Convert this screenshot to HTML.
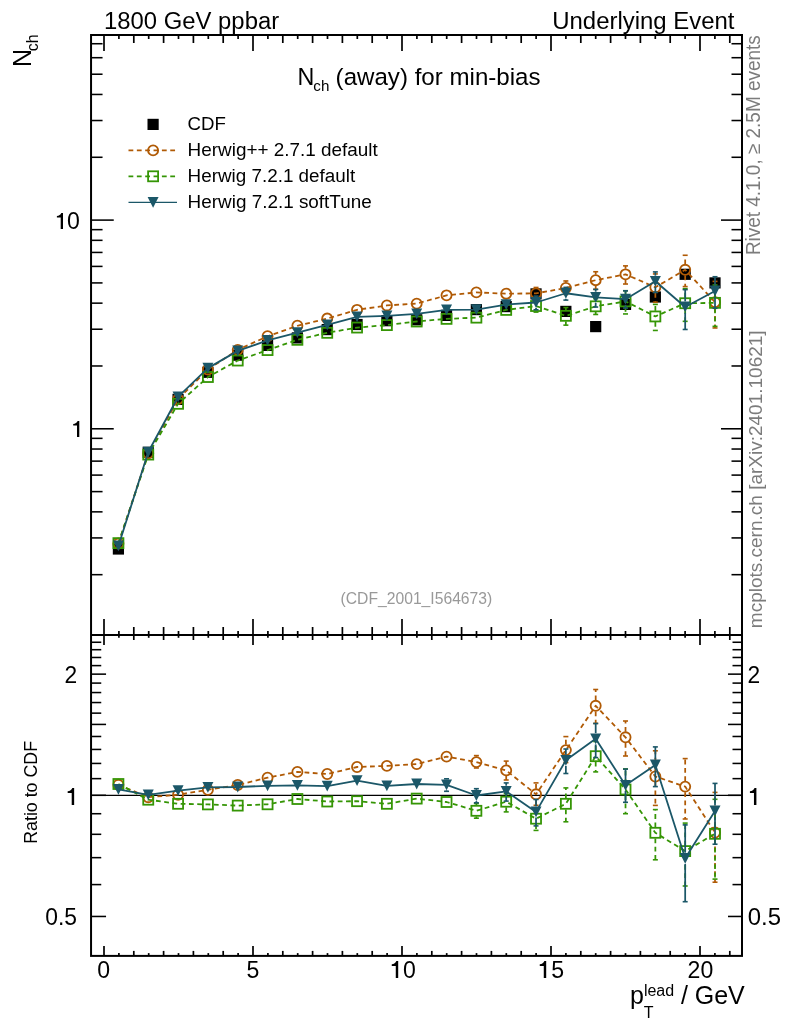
<!DOCTYPE html>
<html><head><meta charset="utf-8"><title>Nch (away) for min-bias</title>
<style>
html,body{margin:0;padding:0;background:#fff;}
body{width:786px;height:1024px;overflow:hidden;font-family:"Liberation Sans", sans-serif;}
svg{display:block;position:absolute;left:0;top:0;will-change:transform;}
svg text{font-family:"Liberation Sans", sans-serif;}
</style></head>
<body>
<svg width="786" height="1024" viewBox="0 0 786 1024">
<rect x="0" y="0" width="786" height="1024" fill="#fff"/>
<line x1="104.00" y1="35.00" x2="104.00" y2="51.00" stroke="#000" stroke-width="1.7" />
<line x1="104.00" y1="619.00" x2="104.00" y2="645.00" stroke="#000" stroke-width="1.7" />
<line x1="104.00" y1="945.90" x2="104.00" y2="955.90" stroke="#000" stroke-width="1.7" />
<line x1="118.90" y1="35.00" x2="118.90" y2="39.00" stroke="#000" stroke-width="1.7" />
<line x1="118.90" y1="631.00" x2="118.90" y2="637.80" stroke="#000" stroke-width="1.7" />
<line x1="118.90" y1="953.10" x2="118.90" y2="955.90" stroke="#000" stroke-width="1.7" />
<line x1="133.80" y1="35.00" x2="133.80" y2="43.00" stroke="#000" stroke-width="1.7" />
<line x1="133.80" y1="627.00" x2="133.80" y2="640.00" stroke="#000" stroke-width="1.7" />
<line x1="133.80" y1="950.90" x2="133.80" y2="955.90" stroke="#000" stroke-width="1.7" />
<line x1="148.70" y1="35.00" x2="148.70" y2="39.00" stroke="#000" stroke-width="1.7" />
<line x1="148.70" y1="631.00" x2="148.70" y2="637.80" stroke="#000" stroke-width="1.7" />
<line x1="148.70" y1="953.10" x2="148.70" y2="955.90" stroke="#000" stroke-width="1.7" />
<line x1="163.60" y1="35.00" x2="163.60" y2="43.00" stroke="#000" stroke-width="1.7" />
<line x1="163.60" y1="627.00" x2="163.60" y2="640.00" stroke="#000" stroke-width="1.7" />
<line x1="163.60" y1="950.90" x2="163.60" y2="955.90" stroke="#000" stroke-width="1.7" />
<line x1="178.50" y1="35.00" x2="178.50" y2="39.00" stroke="#000" stroke-width="1.7" />
<line x1="178.50" y1="631.00" x2="178.50" y2="637.80" stroke="#000" stroke-width="1.7" />
<line x1="178.50" y1="953.10" x2="178.50" y2="955.90" stroke="#000" stroke-width="1.7" />
<line x1="193.40" y1="35.00" x2="193.40" y2="43.00" stroke="#000" stroke-width="1.7" />
<line x1="193.40" y1="627.00" x2="193.40" y2="640.00" stroke="#000" stroke-width="1.7" />
<line x1="193.40" y1="950.90" x2="193.40" y2="955.90" stroke="#000" stroke-width="1.7" />
<line x1="208.30" y1="35.00" x2="208.30" y2="39.00" stroke="#000" stroke-width="1.7" />
<line x1="208.30" y1="631.00" x2="208.30" y2="637.80" stroke="#000" stroke-width="1.7" />
<line x1="208.30" y1="953.10" x2="208.30" y2="955.90" stroke="#000" stroke-width="1.7" />
<line x1="223.20" y1="35.00" x2="223.20" y2="43.00" stroke="#000" stroke-width="1.7" />
<line x1="223.20" y1="627.00" x2="223.20" y2="640.00" stroke="#000" stroke-width="1.7" />
<line x1="223.20" y1="950.90" x2="223.20" y2="955.90" stroke="#000" stroke-width="1.7" />
<line x1="238.10" y1="35.00" x2="238.10" y2="39.00" stroke="#000" stroke-width="1.7" />
<line x1="238.10" y1="631.00" x2="238.10" y2="637.80" stroke="#000" stroke-width="1.7" />
<line x1="238.10" y1="953.10" x2="238.10" y2="955.90" stroke="#000" stroke-width="1.7" />
<line x1="253.00" y1="35.00" x2="253.00" y2="51.00" stroke="#000" stroke-width="1.7" />
<line x1="253.00" y1="619.00" x2="253.00" y2="645.00" stroke="#000" stroke-width="1.7" />
<line x1="253.00" y1="945.90" x2="253.00" y2="955.90" stroke="#000" stroke-width="1.7" />
<line x1="267.90" y1="35.00" x2="267.90" y2="39.00" stroke="#000" stroke-width="1.7" />
<line x1="267.90" y1="631.00" x2="267.90" y2="637.80" stroke="#000" stroke-width="1.7" />
<line x1="267.90" y1="953.10" x2="267.90" y2="955.90" stroke="#000" stroke-width="1.7" />
<line x1="282.80" y1="35.00" x2="282.80" y2="43.00" stroke="#000" stroke-width="1.7" />
<line x1="282.80" y1="627.00" x2="282.80" y2="640.00" stroke="#000" stroke-width="1.7" />
<line x1="282.80" y1="950.90" x2="282.80" y2="955.90" stroke="#000" stroke-width="1.7" />
<line x1="297.70" y1="35.00" x2="297.70" y2="39.00" stroke="#000" stroke-width="1.7" />
<line x1="297.70" y1="631.00" x2="297.70" y2="637.80" stroke="#000" stroke-width="1.7" />
<line x1="297.70" y1="953.10" x2="297.70" y2="955.90" stroke="#000" stroke-width="1.7" />
<line x1="312.60" y1="35.00" x2="312.60" y2="43.00" stroke="#000" stroke-width="1.7" />
<line x1="312.60" y1="627.00" x2="312.60" y2="640.00" stroke="#000" stroke-width="1.7" />
<line x1="312.60" y1="950.90" x2="312.60" y2="955.90" stroke="#000" stroke-width="1.7" />
<line x1="327.50" y1="35.00" x2="327.50" y2="39.00" stroke="#000" stroke-width="1.7" />
<line x1="327.50" y1="631.00" x2="327.50" y2="637.80" stroke="#000" stroke-width="1.7" />
<line x1="327.50" y1="953.10" x2="327.50" y2="955.90" stroke="#000" stroke-width="1.7" />
<line x1="342.40" y1="35.00" x2="342.40" y2="43.00" stroke="#000" stroke-width="1.7" />
<line x1="342.40" y1="627.00" x2="342.40" y2="640.00" stroke="#000" stroke-width="1.7" />
<line x1="342.40" y1="950.90" x2="342.40" y2="955.90" stroke="#000" stroke-width="1.7" />
<line x1="357.30" y1="35.00" x2="357.30" y2="39.00" stroke="#000" stroke-width="1.7" />
<line x1="357.30" y1="631.00" x2="357.30" y2="637.80" stroke="#000" stroke-width="1.7" />
<line x1="357.30" y1="953.10" x2="357.30" y2="955.90" stroke="#000" stroke-width="1.7" />
<line x1="372.20" y1="35.00" x2="372.20" y2="43.00" stroke="#000" stroke-width="1.7" />
<line x1="372.20" y1="627.00" x2="372.20" y2="640.00" stroke="#000" stroke-width="1.7" />
<line x1="372.20" y1="950.90" x2="372.20" y2="955.90" stroke="#000" stroke-width="1.7" />
<line x1="387.10" y1="35.00" x2="387.10" y2="39.00" stroke="#000" stroke-width="1.7" />
<line x1="387.10" y1="631.00" x2="387.10" y2="637.80" stroke="#000" stroke-width="1.7" />
<line x1="387.10" y1="953.10" x2="387.10" y2="955.90" stroke="#000" stroke-width="1.7" />
<line x1="402.00" y1="35.00" x2="402.00" y2="51.00" stroke="#000" stroke-width="1.7" />
<line x1="402.00" y1="619.00" x2="402.00" y2="645.00" stroke="#000" stroke-width="1.7" />
<line x1="402.00" y1="945.90" x2="402.00" y2="955.90" stroke="#000" stroke-width="1.7" />
<line x1="416.90" y1="35.00" x2="416.90" y2="39.00" stroke="#000" stroke-width="1.7" />
<line x1="416.90" y1="631.00" x2="416.90" y2="637.80" stroke="#000" stroke-width="1.7" />
<line x1="416.90" y1="953.10" x2="416.90" y2="955.90" stroke="#000" stroke-width="1.7" />
<line x1="431.80" y1="35.00" x2="431.80" y2="43.00" stroke="#000" stroke-width="1.7" />
<line x1="431.80" y1="627.00" x2="431.80" y2="640.00" stroke="#000" stroke-width="1.7" />
<line x1="431.80" y1="950.90" x2="431.80" y2="955.90" stroke="#000" stroke-width="1.7" />
<line x1="446.70" y1="35.00" x2="446.70" y2="39.00" stroke="#000" stroke-width="1.7" />
<line x1="446.70" y1="631.00" x2="446.70" y2="637.80" stroke="#000" stroke-width="1.7" />
<line x1="446.70" y1="953.10" x2="446.70" y2="955.90" stroke="#000" stroke-width="1.7" />
<line x1="461.60" y1="35.00" x2="461.60" y2="43.00" stroke="#000" stroke-width="1.7" />
<line x1="461.60" y1="627.00" x2="461.60" y2="640.00" stroke="#000" stroke-width="1.7" />
<line x1="461.60" y1="950.90" x2="461.60" y2="955.90" stroke="#000" stroke-width="1.7" />
<line x1="476.50" y1="35.00" x2="476.50" y2="39.00" stroke="#000" stroke-width="1.7" />
<line x1="476.50" y1="631.00" x2="476.50" y2="637.80" stroke="#000" stroke-width="1.7" />
<line x1="476.50" y1="953.10" x2="476.50" y2="955.90" stroke="#000" stroke-width="1.7" />
<line x1="491.40" y1="35.00" x2="491.40" y2="43.00" stroke="#000" stroke-width="1.7" />
<line x1="491.40" y1="627.00" x2="491.40" y2="640.00" stroke="#000" stroke-width="1.7" />
<line x1="491.40" y1="950.90" x2="491.40" y2="955.90" stroke="#000" stroke-width="1.7" />
<line x1="506.30" y1="35.00" x2="506.30" y2="39.00" stroke="#000" stroke-width="1.7" />
<line x1="506.30" y1="631.00" x2="506.30" y2="637.80" stroke="#000" stroke-width="1.7" />
<line x1="506.30" y1="953.10" x2="506.30" y2="955.90" stroke="#000" stroke-width="1.7" />
<line x1="521.20" y1="35.00" x2="521.20" y2="43.00" stroke="#000" stroke-width="1.7" />
<line x1="521.20" y1="627.00" x2="521.20" y2="640.00" stroke="#000" stroke-width="1.7" />
<line x1="521.20" y1="950.90" x2="521.20" y2="955.90" stroke="#000" stroke-width="1.7" />
<line x1="536.10" y1="35.00" x2="536.10" y2="39.00" stroke="#000" stroke-width="1.7" />
<line x1="536.10" y1="631.00" x2="536.10" y2="637.80" stroke="#000" stroke-width="1.7" />
<line x1="536.10" y1="953.10" x2="536.10" y2="955.90" stroke="#000" stroke-width="1.7" />
<line x1="551.00" y1="35.00" x2="551.00" y2="51.00" stroke="#000" stroke-width="1.7" />
<line x1="551.00" y1="619.00" x2="551.00" y2="645.00" stroke="#000" stroke-width="1.7" />
<line x1="551.00" y1="945.90" x2="551.00" y2="955.90" stroke="#000" stroke-width="1.7" />
<line x1="565.90" y1="35.00" x2="565.90" y2="39.00" stroke="#000" stroke-width="1.7" />
<line x1="565.90" y1="631.00" x2="565.90" y2="637.80" stroke="#000" stroke-width="1.7" />
<line x1="565.90" y1="953.10" x2="565.90" y2="955.90" stroke="#000" stroke-width="1.7" />
<line x1="580.80" y1="35.00" x2="580.80" y2="43.00" stroke="#000" stroke-width="1.7" />
<line x1="580.80" y1="627.00" x2="580.80" y2="640.00" stroke="#000" stroke-width="1.7" />
<line x1="580.80" y1="950.90" x2="580.80" y2="955.90" stroke="#000" stroke-width="1.7" />
<line x1="595.70" y1="35.00" x2="595.70" y2="39.00" stroke="#000" stroke-width="1.7" />
<line x1="595.70" y1="631.00" x2="595.70" y2="637.80" stroke="#000" stroke-width="1.7" />
<line x1="595.70" y1="953.10" x2="595.70" y2="955.90" stroke="#000" stroke-width="1.7" />
<line x1="610.60" y1="35.00" x2="610.60" y2="43.00" stroke="#000" stroke-width="1.7" />
<line x1="610.60" y1="627.00" x2="610.60" y2="640.00" stroke="#000" stroke-width="1.7" />
<line x1="610.60" y1="950.90" x2="610.60" y2="955.90" stroke="#000" stroke-width="1.7" />
<line x1="625.50" y1="35.00" x2="625.50" y2="39.00" stroke="#000" stroke-width="1.7" />
<line x1="625.50" y1="631.00" x2="625.50" y2="637.80" stroke="#000" stroke-width="1.7" />
<line x1="625.50" y1="953.10" x2="625.50" y2="955.90" stroke="#000" stroke-width="1.7" />
<line x1="640.40" y1="35.00" x2="640.40" y2="43.00" stroke="#000" stroke-width="1.7" />
<line x1="640.40" y1="627.00" x2="640.40" y2="640.00" stroke="#000" stroke-width="1.7" />
<line x1="640.40" y1="950.90" x2="640.40" y2="955.90" stroke="#000" stroke-width="1.7" />
<line x1="655.30" y1="35.00" x2="655.30" y2="39.00" stroke="#000" stroke-width="1.7" />
<line x1="655.30" y1="631.00" x2="655.30" y2="637.80" stroke="#000" stroke-width="1.7" />
<line x1="655.30" y1="953.10" x2="655.30" y2="955.90" stroke="#000" stroke-width="1.7" />
<line x1="670.20" y1="35.00" x2="670.20" y2="43.00" stroke="#000" stroke-width="1.7" />
<line x1="670.20" y1="627.00" x2="670.20" y2="640.00" stroke="#000" stroke-width="1.7" />
<line x1="670.20" y1="950.90" x2="670.20" y2="955.90" stroke="#000" stroke-width="1.7" />
<line x1="685.10" y1="35.00" x2="685.10" y2="39.00" stroke="#000" stroke-width="1.7" />
<line x1="685.10" y1="631.00" x2="685.10" y2="637.80" stroke="#000" stroke-width="1.7" />
<line x1="685.10" y1="953.10" x2="685.10" y2="955.90" stroke="#000" stroke-width="1.7" />
<line x1="700.00" y1="35.00" x2="700.00" y2="51.00" stroke="#000" stroke-width="1.7" />
<line x1="700.00" y1="619.00" x2="700.00" y2="645.00" stroke="#000" stroke-width="1.7" />
<line x1="700.00" y1="945.90" x2="700.00" y2="955.90" stroke="#000" stroke-width="1.7" />
<line x1="714.90" y1="35.00" x2="714.90" y2="39.00" stroke="#000" stroke-width="1.7" />
<line x1="714.90" y1="631.00" x2="714.90" y2="637.80" stroke="#000" stroke-width="1.7" />
<line x1="714.90" y1="953.10" x2="714.90" y2="955.90" stroke="#000" stroke-width="1.7" />
<line x1="729.80" y1="35.00" x2="729.80" y2="43.00" stroke="#000" stroke-width="1.7" />
<line x1="729.80" y1="627.00" x2="729.80" y2="640.00" stroke="#000" stroke-width="1.7" />
<line x1="729.80" y1="950.90" x2="729.80" y2="955.90" stroke="#000" stroke-width="1.7" />
<line x1="91.05" y1="574.68" x2="102.55" y2="574.68" stroke="#000" stroke-width="1.55" />
<line x1="731.50" y1="574.68" x2="742.00" y2="574.68" stroke="#000" stroke-width="1.55" />
<line x1="91.05" y1="537.92" x2="102.55" y2="537.92" stroke="#000" stroke-width="1.55" />
<line x1="731.50" y1="537.92" x2="742.00" y2="537.92" stroke="#000" stroke-width="1.55" />
<line x1="91.05" y1="511.85" x2="102.55" y2="511.85" stroke="#000" stroke-width="1.55" />
<line x1="731.50" y1="511.85" x2="742.00" y2="511.85" stroke="#000" stroke-width="1.55" />
<line x1="91.05" y1="491.62" x2="102.55" y2="491.62" stroke="#000" stroke-width="1.55" />
<line x1="731.50" y1="491.62" x2="742.00" y2="491.62" stroke="#000" stroke-width="1.55" />
<line x1="91.05" y1="475.10" x2="102.55" y2="475.10" stroke="#000" stroke-width="1.55" />
<line x1="731.50" y1="475.10" x2="742.00" y2="475.10" stroke="#000" stroke-width="1.55" />
<line x1="91.05" y1="461.13" x2="102.55" y2="461.13" stroke="#000" stroke-width="1.55" />
<line x1="731.50" y1="461.13" x2="742.00" y2="461.13" stroke="#000" stroke-width="1.55" />
<line x1="91.05" y1="449.03" x2="102.55" y2="449.03" stroke="#000" stroke-width="1.55" />
<line x1="731.50" y1="449.03" x2="742.00" y2="449.03" stroke="#000" stroke-width="1.55" />
<line x1="91.05" y1="438.35" x2="102.55" y2="438.35" stroke="#000" stroke-width="1.55" />
<line x1="731.50" y1="438.35" x2="742.00" y2="438.35" stroke="#000" stroke-width="1.55" />
<line x1="91.05" y1="428.80" x2="113.75" y2="428.80" stroke="#000" stroke-width="1.55" />
<line x1="721.00" y1="428.80" x2="742.00" y2="428.80" stroke="#000" stroke-width="1.55" />
<line x1="91.05" y1="365.98" x2="102.55" y2="365.98" stroke="#000" stroke-width="1.55" />
<line x1="731.50" y1="365.98" x2="742.00" y2="365.98" stroke="#000" stroke-width="1.55" />
<line x1="91.05" y1="329.22" x2="102.55" y2="329.22" stroke="#000" stroke-width="1.55" />
<line x1="731.50" y1="329.22" x2="742.00" y2="329.22" stroke="#000" stroke-width="1.55" />
<line x1="91.05" y1="303.15" x2="102.55" y2="303.15" stroke="#000" stroke-width="1.55" />
<line x1="731.50" y1="303.15" x2="742.00" y2="303.15" stroke="#000" stroke-width="1.55" />
<line x1="91.05" y1="282.92" x2="102.55" y2="282.92" stroke="#000" stroke-width="1.55" />
<line x1="731.50" y1="282.92" x2="742.00" y2="282.92" stroke="#000" stroke-width="1.55" />
<line x1="91.05" y1="266.40" x2="102.55" y2="266.40" stroke="#000" stroke-width="1.55" />
<line x1="731.50" y1="266.40" x2="742.00" y2="266.40" stroke="#000" stroke-width="1.55" />
<line x1="91.05" y1="252.43" x2="102.55" y2="252.43" stroke="#000" stroke-width="1.55" />
<line x1="731.50" y1="252.43" x2="742.00" y2="252.43" stroke="#000" stroke-width="1.55" />
<line x1="91.05" y1="240.33" x2="102.55" y2="240.33" stroke="#000" stroke-width="1.55" />
<line x1="731.50" y1="240.33" x2="742.00" y2="240.33" stroke="#000" stroke-width="1.55" />
<line x1="91.05" y1="229.65" x2="102.55" y2="229.65" stroke="#000" stroke-width="1.55" />
<line x1="731.50" y1="229.65" x2="742.00" y2="229.65" stroke="#000" stroke-width="1.55" />
<line x1="91.05" y1="220.10" x2="113.75" y2="220.10" stroke="#000" stroke-width="1.55" />
<line x1="721.00" y1="220.10" x2="742.00" y2="220.10" stroke="#000" stroke-width="1.55" />
<line x1="91.05" y1="157.28" x2="102.55" y2="157.28" stroke="#000" stroke-width="1.55" />
<line x1="731.50" y1="157.28" x2="742.00" y2="157.28" stroke="#000" stroke-width="1.55" />
<line x1="91.05" y1="120.52" x2="102.55" y2="120.52" stroke="#000" stroke-width="1.55" />
<line x1="731.50" y1="120.52" x2="742.00" y2="120.52" stroke="#000" stroke-width="1.55" />
<line x1="91.05" y1="94.45" x2="102.55" y2="94.45" stroke="#000" stroke-width="1.55" />
<line x1="731.50" y1="94.45" x2="742.00" y2="94.45" stroke="#000" stroke-width="1.55" />
<line x1="91.05" y1="74.22" x2="102.55" y2="74.22" stroke="#000" stroke-width="1.55" />
<line x1="731.50" y1="74.22" x2="742.00" y2="74.22" stroke="#000" stroke-width="1.55" />
<line x1="91.05" y1="57.70" x2="102.55" y2="57.70" stroke="#000" stroke-width="1.55" />
<line x1="731.50" y1="57.70" x2="742.00" y2="57.70" stroke="#000" stroke-width="1.55" />
<line x1="91.05" y1="43.73" x2="102.55" y2="43.73" stroke="#000" stroke-width="1.55" />
<line x1="731.50" y1="43.73" x2="742.00" y2="43.73" stroke="#000" stroke-width="1.55" />
<line x1="91.05" y1="916.46" x2="106.05" y2="916.46" stroke="#000" stroke-width="1.55" />
<line x1="728.00" y1="916.46" x2="742.00" y2="916.46" stroke="#000" stroke-width="1.55" />
<line x1="91.05" y1="884.59" x2="101.25" y2="884.59" stroke="#000" stroke-width="1.55" />
<line x1="732.50" y1="884.59" x2="742.00" y2="884.59" stroke="#000" stroke-width="1.55" />
<line x1="91.05" y1="857.65" x2="101.25" y2="857.65" stroke="#000" stroke-width="1.55" />
<line x1="732.50" y1="857.65" x2="742.00" y2="857.65" stroke="#000" stroke-width="1.55" />
<line x1="91.05" y1="834.31" x2="101.25" y2="834.31" stroke="#000" stroke-width="1.55" />
<line x1="732.50" y1="834.31" x2="742.00" y2="834.31" stroke="#000" stroke-width="1.55" />
<line x1="91.05" y1="813.72" x2="101.25" y2="813.72" stroke="#000" stroke-width="1.55" />
<line x1="732.50" y1="813.72" x2="742.00" y2="813.72" stroke="#000" stroke-width="1.55" />
<line x1="91.05" y1="795.30" x2="106.05" y2="795.30" stroke="#000" stroke-width="1.55" />
<line x1="728.00" y1="795.30" x2="742.00" y2="795.30" stroke="#000" stroke-width="1.55" />
<line x1="91.05" y1="778.64" x2="101.25" y2="778.64" stroke="#000" stroke-width="1.55" />
<line x1="732.50" y1="778.64" x2="742.00" y2="778.64" stroke="#000" stroke-width="1.55" />
<line x1="91.05" y1="763.43" x2="101.25" y2="763.43" stroke="#000" stroke-width="1.55" />
<line x1="732.50" y1="763.43" x2="742.00" y2="763.43" stroke="#000" stroke-width="1.55" />
<line x1="91.05" y1="749.44" x2="101.25" y2="749.44" stroke="#000" stroke-width="1.55" />
<line x1="732.50" y1="749.44" x2="742.00" y2="749.44" stroke="#000" stroke-width="1.55" />
<line x1="91.05" y1="736.48" x2="101.25" y2="736.48" stroke="#000" stroke-width="1.55" />
<line x1="732.50" y1="736.48" x2="742.00" y2="736.48" stroke="#000" stroke-width="1.55" />
<line x1="91.05" y1="724.42" x2="106.05" y2="724.42" stroke="#000" stroke-width="1.55" />
<line x1="728.00" y1="724.42" x2="742.00" y2="724.42" stroke="#000" stroke-width="1.55" />
<line x1="91.05" y1="713.14" x2="101.25" y2="713.14" stroke="#000" stroke-width="1.55" />
<line x1="732.50" y1="713.14" x2="742.00" y2="713.14" stroke="#000" stroke-width="1.55" />
<line x1="91.05" y1="702.54" x2="101.25" y2="702.54" stroke="#000" stroke-width="1.55" />
<line x1="732.50" y1="702.54" x2="742.00" y2="702.54" stroke="#000" stroke-width="1.55" />
<line x1="91.05" y1="692.55" x2="101.25" y2="692.55" stroke="#000" stroke-width="1.55" />
<line x1="732.50" y1="692.55" x2="742.00" y2="692.55" stroke="#000" stroke-width="1.55" />
<line x1="91.05" y1="683.10" x2="101.25" y2="683.10" stroke="#000" stroke-width="1.55" />
<line x1="732.50" y1="683.10" x2="742.00" y2="683.10" stroke="#000" stroke-width="1.55" />
<line x1="91.05" y1="674.14" x2="106.05" y2="674.14" stroke="#000" stroke-width="1.55" />
<line x1="728.00" y1="674.14" x2="742.00" y2="674.14" stroke="#000" stroke-width="1.55" />
<line x1="91.05" y1="665.61" x2="101.25" y2="665.61" stroke="#000" stroke-width="1.55" />
<line x1="732.50" y1="665.61" x2="742.00" y2="665.61" stroke="#000" stroke-width="1.55" />
<line x1="91.05" y1="657.47" x2="101.25" y2="657.47" stroke="#000" stroke-width="1.55" />
<line x1="732.50" y1="657.47" x2="742.00" y2="657.47" stroke="#000" stroke-width="1.55" />
<line x1="91.05" y1="649.70" x2="101.25" y2="649.70" stroke="#000" stroke-width="1.55" />
<line x1="732.50" y1="649.70" x2="742.00" y2="649.70" stroke="#000" stroke-width="1.55" />
<line x1="91.05" y1="642.26" x2="101.25" y2="642.26" stroke="#000" stroke-width="1.55" />
<line x1="732.50" y1="642.26" x2="742.00" y2="642.26" stroke="#000" stroke-width="1.55" />
<line x1="91.05" y1="795.30" x2="742.00" y2="795.30" stroke="#000" stroke-width="1.2" />
<rect x="112.81" y="543.40" width="11.2" height="11.2" fill="#000"/>
<rect x="142.65" y="446.70" width="11.2" height="11.2" fill="#000"/>
<rect x="172.47" y="393.80" width="11.2" height="11.2" fill="#000"/>
<rect x="202.31" y="366.70" width="11.2" height="11.2" fill="#000"/>
<rect x="232.13" y="349.60" width="11.2" height="11.2" fill="#000"/>
<rect x="261.96" y="339.80" width="11.2" height="11.2" fill="#000"/>
<rect x="291.79" y="332.30" width="11.2" height="11.2" fill="#000"/>
<rect x="321.62" y="324.00" width="11.2" height="11.2" fill="#000"/>
<rect x="351.45" y="318.90" width="11.2" height="11.2" fill="#000"/>
<rect x="381.28" y="315.10" width="11.2" height="11.2" fill="#000"/>
<rect x="411.11" y="314.20" width="11.2" height="11.2" fill="#000"/>
<rect x="440.94" y="309.80" width="11.2" height="11.2" fill="#000"/>
<rect x="470.77" y="304.00" width="11.2" height="11.2" fill="#000"/>
<rect x="500.60" y="301.00" width="11.2" height="11.2" fill="#000"/>
<rect x="530.43" y="288.30" width="11.2" height="11.2" fill="#000"/>
<rect x="560.26" y="305.80" width="11.2" height="11.2" fill="#000"/>
<rect x="590.09" y="321.00" width="11.2" height="11.2" fill="#000"/>
<rect x="619.92" y="298.80" width="11.2" height="11.2" fill="#000"/>
<rect x="649.75" y="291.40" width="11.2" height="11.2" fill="#000"/>
<rect x="679.58" y="268.70" width="11.2" height="11.2" fill="#000"/>
<rect x="709.41" y="277.30" width="11.2" height="11.2" fill="#000"/>
<polyline points="118.41,543.56 148.25,453.29 178.07,399.09 207.91,369.45 237.73,349.86 267.56,336.27 297.39,325.77 327.23,318.56 357.05,309.83 386.88,305.46 416.71,303.62 446.54,295.33 476.38,292.39 506.20,293.69 536.03,293.38 565.87,287.96 595.69,280.19 625.52,274.33 655.36,287.25 685.18,269.79 715.01,302.19" fill="none" stroke="#b05a05" stroke-width="1.8" stroke-dasharray="4.8 3.5" stroke-linejoin="round"/>
<line x1="536.03" y1="287.78" x2="536.03" y2="287.47" stroke="#b05a05" stroke-width="1.75" stroke-dasharray="4.8 3.5"/>
<line x1="533.53" y1="287.47" x2="538.53" y2="287.47" stroke="#b05a05" stroke-width="1.6"/>
<line x1="536.03" y1="298.98" x2="536.03" y2="299.09" stroke="#b05a05" stroke-width="1.75" stroke-dasharray="4.8 3.5"/>
<line x1="533.53" y1="299.09" x2="538.53" y2="299.09" stroke="#b05a05" stroke-width="1.6"/>
<line x1="565.87" y1="282.36" x2="565.87" y2="280.96" stroke="#b05a05" stroke-width="1.75" stroke-dasharray="4.8 3.5"/>
<line x1="563.37" y1="280.96" x2="568.37" y2="280.96" stroke="#b05a05" stroke-width="1.6"/>
<line x1="565.87" y1="293.56" x2="565.87" y2="294.44" stroke="#b05a05" stroke-width="1.75" stroke-dasharray="4.8 3.5"/>
<line x1="563.37" y1="294.44" x2="568.37" y2="294.44" stroke="#b05a05" stroke-width="1.6"/>
<line x1="595.69" y1="274.59" x2="595.69" y2="271.74" stroke="#b05a05" stroke-width="1.75" stroke-dasharray="4.8 3.5"/>
<line x1="593.19" y1="271.74" x2="598.19" y2="271.74" stroke="#b05a05" stroke-width="1.6"/>
<line x1="595.69" y1="285.79" x2="595.69" y2="289.32" stroke="#b05a05" stroke-width="1.75" stroke-dasharray="4.8 3.5"/>
<line x1="593.19" y1="289.32" x2="598.19" y2="289.32" stroke="#b05a05" stroke-width="1.6"/>
<line x1="625.52" y1="268.73" x2="625.52" y2="265.87" stroke="#b05a05" stroke-width="1.75" stroke-dasharray="4.8 3.5"/>
<line x1="623.02" y1="265.87" x2="628.02" y2="265.87" stroke="#b05a05" stroke-width="1.6"/>
<line x1="625.52" y1="279.93" x2="625.52" y2="284.02" stroke="#b05a05" stroke-width="1.75" stroke-dasharray="4.8 3.5"/>
<line x1="623.02" y1="284.02" x2="628.02" y2="284.02" stroke="#b05a05" stroke-width="1.6"/>
<line x1="655.36" y1="281.65" x2="655.36" y2="273.93" stroke="#b05a05" stroke-width="1.75" stroke-dasharray="4.8 3.5"/>
<line x1="652.86" y1="273.93" x2="657.86" y2="273.93" stroke="#b05a05" stroke-width="1.6"/>
<line x1="655.36" y1="292.85" x2="655.36" y2="302.24" stroke="#b05a05" stroke-width="1.75" stroke-dasharray="4.8 3.5"/>
<line x1="652.86" y1="302.24" x2="657.86" y2="302.24" stroke="#b05a05" stroke-width="1.6"/>
<line x1="685.18" y1="264.19" x2="685.18" y2="255.27" stroke="#b05a05" stroke-width="1.75" stroke-dasharray="4.8 3.5"/>
<line x1="682.68" y1="255.27" x2="687.68" y2="255.27" stroke="#b05a05" stroke-width="1.6"/>
<line x1="685.18" y1="275.39" x2="685.18" y2="286.59" stroke="#b05a05" stroke-width="1.75" stroke-dasharray="4.8 3.5"/>
<line x1="682.68" y1="286.59" x2="687.68" y2="286.59" stroke="#b05a05" stroke-width="1.6"/>
<line x1="715.01" y1="296.59" x2="715.01" y2="281.40" stroke="#b05a05" stroke-width="1.75" stroke-dasharray="4.8 3.5"/>
<line x1="712.51" y1="281.40" x2="717.51" y2="281.40" stroke="#b05a05" stroke-width="1.6"/>
<line x1="715.01" y1="307.79" x2="715.01" y2="327.96" stroke="#b05a05" stroke-width="1.75" stroke-dasharray="4.8 3.5"/>
<line x1="712.51" y1="327.96" x2="717.51" y2="327.96" stroke="#b05a05" stroke-width="1.6"/>
<circle cx="118.41" cy="543.56" r="5.05" fill="none" stroke="#b05a05" stroke-width="1.8"/>
<circle cx="148.25" cy="453.29" r="5.05" fill="none" stroke="#b05a05" stroke-width="1.8"/>
<circle cx="178.07" cy="399.09" r="5.05" fill="none" stroke="#b05a05" stroke-width="1.8"/>
<circle cx="207.91" cy="369.45" r="5.05" fill="none" stroke="#b05a05" stroke-width="1.8"/>
<circle cx="237.73" cy="349.86" r="5.05" fill="none" stroke="#b05a05" stroke-width="1.8"/>
<circle cx="267.56" cy="336.27" r="5.05" fill="none" stroke="#b05a05" stroke-width="1.8"/>
<circle cx="297.39" cy="325.77" r="5.05" fill="none" stroke="#b05a05" stroke-width="1.8"/>
<circle cx="327.23" cy="318.56" r="5.05" fill="none" stroke="#b05a05" stroke-width="1.8"/>
<circle cx="357.05" cy="309.83" r="5.05" fill="none" stroke="#b05a05" stroke-width="1.8"/>
<circle cx="386.88" cy="305.46" r="5.05" fill="none" stroke="#b05a05" stroke-width="1.8"/>
<circle cx="416.71" cy="303.62" r="5.05" fill="none" stroke="#b05a05" stroke-width="1.8"/>
<circle cx="446.54" cy="295.33" r="5.05" fill="none" stroke="#b05a05" stroke-width="1.8"/>
<circle cx="476.38" cy="292.39" r="5.05" fill="none" stroke="#b05a05" stroke-width="1.8"/>
<circle cx="506.20" cy="293.69" r="5.05" fill="none" stroke="#b05a05" stroke-width="1.8"/>
<circle cx="536.03" cy="293.38" r="5.05" fill="none" stroke="#b05a05" stroke-width="1.8"/>
<circle cx="565.87" cy="287.96" r="5.05" fill="none" stroke="#b05a05" stroke-width="1.8"/>
<circle cx="595.69" cy="280.19" r="5.05" fill="none" stroke="#b05a05" stroke-width="1.8"/>
<circle cx="625.52" cy="274.33" r="5.05" fill="none" stroke="#b05a05" stroke-width="1.8"/>
<circle cx="655.36" cy="287.25" r="5.05" fill="none" stroke="#b05a05" stroke-width="1.8"/>
<circle cx="685.18" cy="269.79" r="5.05" fill="none" stroke="#b05a05" stroke-width="1.8"/>
<circle cx="715.01" cy="302.19" r="5.05" fill="none" stroke="#b05a05" stroke-width="1.8"/>
<polyline points="118.41,543.14 148.25,454.58 178.07,403.81 207.91,377.02 237.73,360.54 267.56,350.07 297.39,339.82 327.23,332.81 357.05,327.56 386.88,325.11 416.71,321.51 446.54,318.87 476.38,317.64 506.20,309.92 536.03,306.03 565.87,315.81 595.69,306.33 625.52,301.39 655.36,316.44 685.18,303.23 715.01,302.86" fill="none" stroke="#359505" stroke-width="1.8" stroke-dasharray="4.8 3.5" stroke-linejoin="round"/>
<line x1="536.03" y1="311.63" x2="536.03" y2="312.10" stroke="#359505" stroke-width="1.75" stroke-dasharray="4.8 3.5"/>
<line x1="533.53" y1="312.10" x2="538.53" y2="312.10" stroke="#359505" stroke-width="1.6"/>
<line x1="565.87" y1="310.21" x2="565.87" y2="307.56" stroke="#359505" stroke-width="1.75" stroke-dasharray="4.8 3.5"/>
<line x1="563.37" y1="307.56" x2="568.37" y2="307.56" stroke="#359505" stroke-width="1.6"/>
<line x1="565.87" y1="321.41" x2="565.87" y2="325.14" stroke="#359505" stroke-width="1.75" stroke-dasharray="4.8 3.5"/>
<line x1="563.37" y1="325.14" x2="568.37" y2="325.14" stroke="#359505" stroke-width="1.6"/>
<line x1="595.69" y1="300.73" x2="595.69" y2="298.70" stroke="#359505" stroke-width="1.75" stroke-dasharray="4.8 3.5"/>
<line x1="593.19" y1="298.70" x2="598.19" y2="298.70" stroke="#359505" stroke-width="1.6"/>
<line x1="595.69" y1="311.93" x2="595.69" y2="314.47" stroke="#359505" stroke-width="1.75" stroke-dasharray="4.8 3.5"/>
<line x1="593.19" y1="314.47" x2="598.19" y2="314.47" stroke="#359505" stroke-width="1.6"/>
<line x1="625.52" y1="295.79" x2="625.52" y2="290.71" stroke="#359505" stroke-width="1.75" stroke-dasharray="4.8 3.5"/>
<line x1="623.02" y1="290.71" x2="628.02" y2="290.71" stroke="#359505" stroke-width="1.6"/>
<line x1="625.52" y1="306.99" x2="625.52" y2="313.94" stroke="#359505" stroke-width="1.75" stroke-dasharray="4.8 3.5"/>
<line x1="623.02" y1="313.94" x2="628.02" y2="313.94" stroke="#359505" stroke-width="1.6"/>
<line x1="655.36" y1="310.84" x2="655.36" y2="304.41" stroke="#359505" stroke-width="1.75" stroke-dasharray="4.8 3.5"/>
<line x1="652.86" y1="304.41" x2="657.86" y2="304.41" stroke="#359505" stroke-width="1.6"/>
<line x1="655.36" y1="322.04" x2="655.36" y2="330.44" stroke="#359505" stroke-width="1.75" stroke-dasharray="4.8 3.5"/>
<line x1="652.86" y1="330.44" x2="657.86" y2="330.44" stroke="#359505" stroke-width="1.6"/>
<line x1="685.18" y1="297.63" x2="685.18" y2="288.71" stroke="#359505" stroke-width="1.75" stroke-dasharray="4.8 3.5"/>
<line x1="682.68" y1="288.71" x2="687.68" y2="288.71" stroke="#359505" stroke-width="1.6"/>
<line x1="685.18" y1="308.83" x2="685.18" y2="321.33" stroke="#359505" stroke-width="1.75" stroke-dasharray="4.8 3.5"/>
<line x1="682.68" y1="321.33" x2="687.68" y2="321.33" stroke="#359505" stroke-width="1.6"/>
<line x1="715.01" y1="297.26" x2="715.01" y2="284.97" stroke="#359505" stroke-width="1.75" stroke-dasharray="4.8 3.5"/>
<line x1="712.51" y1="284.97" x2="717.51" y2="284.97" stroke="#359505" stroke-width="1.6"/>
<line x1="715.01" y1="308.46" x2="715.01" y2="326.35" stroke="#359505" stroke-width="1.75" stroke-dasharray="4.8 3.5"/>
<line x1="712.51" y1="326.35" x2="717.51" y2="326.35" stroke="#359505" stroke-width="1.6"/>
<rect x="113.41" y="538.14" width="10.0" height="10.0" fill="none" stroke="#359505" stroke-width="1.8"/>
<rect x="143.25" y="449.58" width="10.0" height="10.0" fill="none" stroke="#359505" stroke-width="1.8"/>
<rect x="173.07" y="398.81" width="10.0" height="10.0" fill="none" stroke="#359505" stroke-width="1.8"/>
<rect x="202.91" y="372.02" width="10.0" height="10.0" fill="none" stroke="#359505" stroke-width="1.8"/>
<rect x="232.73" y="355.54" width="10.0" height="10.0" fill="none" stroke="#359505" stroke-width="1.8"/>
<rect x="262.56" y="345.07" width="10.0" height="10.0" fill="none" stroke="#359505" stroke-width="1.8"/>
<rect x="292.39" y="334.82" width="10.0" height="10.0" fill="none" stroke="#359505" stroke-width="1.8"/>
<rect x="322.23" y="327.81" width="10.0" height="10.0" fill="none" stroke="#359505" stroke-width="1.8"/>
<rect x="352.05" y="322.56" width="10.0" height="10.0" fill="none" stroke="#359505" stroke-width="1.8"/>
<rect x="381.88" y="320.11" width="10.0" height="10.0" fill="none" stroke="#359505" stroke-width="1.8"/>
<rect x="411.71" y="316.51" width="10.0" height="10.0" fill="none" stroke="#359505" stroke-width="1.8"/>
<rect x="441.54" y="313.87" width="10.0" height="10.0" fill="none" stroke="#359505" stroke-width="1.8"/>
<rect x="471.38" y="312.64" width="10.0" height="10.0" fill="none" stroke="#359505" stroke-width="1.8"/>
<rect x="501.20" y="304.92" width="10.0" height="10.0" fill="none" stroke="#359505" stroke-width="1.8"/>
<rect x="531.03" y="301.03" width="10.0" height="10.0" fill="none" stroke="#359505" stroke-width="1.8"/>
<rect x="560.87" y="310.81" width="10.0" height="10.0" fill="none" stroke="#359505" stroke-width="1.8"/>
<rect x="590.69" y="301.33" width="10.0" height="10.0" fill="none" stroke="#359505" stroke-width="1.8"/>
<rect x="620.52" y="296.39" width="10.0" height="10.0" fill="none" stroke="#359505" stroke-width="1.8"/>
<rect x="650.36" y="311.44" width="10.0" height="10.0" fill="none" stroke="#359505" stroke-width="1.8"/>
<rect x="680.18" y="298.23" width="10.0" height="10.0" fill="none" stroke="#359505" stroke-width="1.8"/>
<rect x="710.01" y="297.86" width="10.0" height="10.0" fill="none" stroke="#359505" stroke-width="1.8"/>
<polyline points="118.41,545.94 148.25,452.04 178.07,396.96 207.91,368.15 237.73,350.90 267.56,340.47 297.39,332.71 327.23,324.83 357.05,316.93 386.88,315.83 416.71,313.94 446.54,309.96 476.38,309.70 506.20,304.53 536.03,302.51 565.87,293.25 595.69,297.30 625.52,299.21 655.36,281.29 685.18,306.97 715.01,290.99" fill="none" stroke="#1b5768" stroke-width="1.8"  stroke-linejoin="round"/>
<line x1="536.03" y1="296.91" x2="536.03" y2="296.08" stroke="#1b5768" stroke-width="1.75" />
<line x1="533.53" y1="296.08" x2="538.53" y2="296.08" stroke="#1b5768" stroke-width="1.6"/>
<line x1="536.03" y1="308.11" x2="536.03" y2="309.77" stroke="#1b5768" stroke-width="1.75" />
<line x1="533.53" y1="309.77" x2="538.53" y2="309.77" stroke="#1b5768" stroke-width="1.6"/>
<line x1="565.87" y1="287.65" x2="565.87" y2="287.39" stroke="#1b5768" stroke-width="1.75" />
<line x1="563.37" y1="287.39" x2="568.37" y2="287.39" stroke="#1b5768" stroke-width="1.6"/>
<line x1="565.87" y1="298.85" x2="565.87" y2="300.10" stroke="#1b5768" stroke-width="1.75" />
<line x1="563.37" y1="300.10" x2="568.37" y2="300.10" stroke="#1b5768" stroke-width="1.6"/>
<line x1="595.69" y1="291.70" x2="595.69" y2="289.37" stroke="#1b5768" stroke-width="1.75" />
<line x1="593.19" y1="289.37" x2="598.19" y2="289.37" stroke="#1b5768" stroke-width="1.6"/>
<line x1="595.69" y1="302.90" x2="595.69" y2="307.05" stroke="#1b5768" stroke-width="1.75" />
<line x1="593.19" y1="307.05" x2="598.19" y2="307.05" stroke="#1b5768" stroke-width="1.6"/>
<line x1="625.52" y1="293.61" x2="625.52" y2="290.82" stroke="#1b5768" stroke-width="1.75" />
<line x1="623.02" y1="290.82" x2="628.02" y2="290.82" stroke="#1b5768" stroke-width="1.6"/>
<line x1="625.52" y1="304.81" x2="625.52" y2="308.03" stroke="#1b5768" stroke-width="1.75" />
<line x1="623.02" y1="308.03" x2="628.02" y2="308.03" stroke="#1b5768" stroke-width="1.6"/>
<line x1="655.36" y1="275.69" x2="655.36" y2="271.90" stroke="#1b5768" stroke-width="1.75" />
<line x1="652.86" y1="271.90" x2="657.86" y2="271.90" stroke="#1b5768" stroke-width="1.6"/>
<line x1="655.36" y1="286.89" x2="655.36" y2="292.49" stroke="#1b5768" stroke-width="1.75" />
<line x1="652.86" y1="292.49" x2="657.86" y2="292.49" stroke="#1b5768" stroke-width="1.6"/>
<line x1="685.18" y1="301.37" x2="685.18" y2="289.65" stroke="#1b5768" stroke-width="1.75" />
<line x1="682.68" y1="289.65" x2="687.68" y2="289.65" stroke="#1b5768" stroke-width="1.6"/>
<line x1="685.18" y1="312.57" x2="685.18" y2="329.47" stroke="#1b5768" stroke-width="1.75" />
<line x1="682.68" y1="329.47" x2="687.68" y2="329.47" stroke="#1b5768" stroke-width="1.6"/>
<line x1="715.01" y1="285.39" x2="715.01" y2="276.73" stroke="#1b5768" stroke-width="1.75" />
<line x1="712.51" y1="276.73" x2="717.51" y2="276.73" stroke="#1b5768" stroke-width="1.6"/>
<line x1="715.01" y1="296.59" x2="715.01" y2="308.26" stroke="#1b5768" stroke-width="1.75" />
<line x1="712.51" y1="308.26" x2="717.51" y2="308.26" stroke="#1b5768" stroke-width="1.6"/>
<polygon points="112.91,540.54 123.91,540.54 118.41,551.34" fill="#1b5768"/>
<polygon points="142.75,446.64 153.75,446.64 148.25,457.44" fill="#1b5768"/>
<polygon points="172.57,391.56 183.57,391.56 178.07,402.36" fill="#1b5768"/>
<polygon points="202.41,362.75 213.41,362.75 207.91,373.55" fill="#1b5768"/>
<polygon points="232.23,345.50 243.23,345.50 237.73,356.30" fill="#1b5768"/>
<polygon points="262.06,335.07 273.06,335.07 267.56,345.87" fill="#1b5768"/>
<polygon points="291.89,327.31 302.89,327.31 297.39,338.11" fill="#1b5768"/>
<polygon points="321.73,319.43 332.73,319.43 327.23,330.23" fill="#1b5768"/>
<polygon points="351.55,311.53 362.55,311.53 357.05,322.33" fill="#1b5768"/>
<polygon points="381.38,310.43 392.38,310.43 386.88,321.23" fill="#1b5768"/>
<polygon points="411.21,308.54 422.21,308.54 416.71,319.34" fill="#1b5768"/>
<polygon points="441.04,304.56 452.04,304.56 446.54,315.36" fill="#1b5768"/>
<polygon points="470.88,304.30 481.88,304.30 476.38,315.10" fill="#1b5768"/>
<polygon points="500.70,299.13 511.70,299.13 506.20,309.93" fill="#1b5768"/>
<polygon points="530.53,297.11 541.53,297.11 536.03,307.91" fill="#1b5768"/>
<polygon points="560.37,287.85 571.37,287.85 565.87,298.65" fill="#1b5768"/>
<polygon points="590.19,291.90 601.19,291.90 595.69,302.70" fill="#1b5768"/>
<polygon points="620.02,293.81 631.02,293.81 625.52,304.61" fill="#1b5768"/>
<polygon points="649.86,275.89 660.86,275.89 655.36,286.69" fill="#1b5768"/>
<polygon points="679.68,301.57 690.68,301.57 685.18,312.37" fill="#1b5768"/>
<polygon points="709.51,285.59 720.51,285.59 715.01,296.39" fill="#1b5768"/>
<polyline points="118.41,784.80 148.25,797.20 178.07,794.70 207.91,789.80 237.73,785.00 267.56,777.70 297.39,771.90 327.23,774.00 357.05,767.00 386.88,765.90 416.71,764.10 446.54,756.60 476.38,762.10 506.20,770.40 536.03,794.30 565.87,750.10 595.69,705.80 625.52,737.30 655.36,776.50 685.18,786.60 715.01,832.50" fill="none" stroke="#b05a05" stroke-width="1.8" stroke-dasharray="4.8 3.5" stroke-linejoin="round"/>
<line x1="476.38" y1="756.50" x2="476.38" y2="755.60" stroke="#b05a05" stroke-width="1.75" stroke-dasharray="4.8 3.5"/>
<line x1="473.88" y1="755.60" x2="478.88" y2="755.60" stroke="#b05a05" stroke-width="1.6"/>
<line x1="476.38" y1="767.70" x2="476.38" y2="768.00" stroke="#b05a05" stroke-width="1.75" stroke-dasharray="4.8 3.5"/>
<line x1="473.88" y1="768.00" x2="478.88" y2="768.00" stroke="#b05a05" stroke-width="1.6"/>
<line x1="506.20" y1="764.80" x2="506.20" y2="761.10" stroke="#b05a05" stroke-width="1.75" stroke-dasharray="4.8 3.5"/>
<line x1="503.70" y1="761.10" x2="508.70" y2="761.10" stroke="#b05a05" stroke-width="1.6"/>
<line x1="506.20" y1="776.00" x2="506.20" y2="780.00" stroke="#b05a05" stroke-width="1.75" stroke-dasharray="4.8 3.5"/>
<line x1="503.70" y1="780.00" x2="508.70" y2="780.00" stroke="#b05a05" stroke-width="1.6"/>
<line x1="536.03" y1="788.70" x2="536.03" y2="782.90" stroke="#b05a05" stroke-width="1.75" stroke-dasharray="4.8 3.5"/>
<line x1="533.53" y1="782.90" x2="538.53" y2="782.90" stroke="#b05a05" stroke-width="1.6"/>
<line x1="536.03" y1="799.90" x2="536.03" y2="805.30" stroke="#b05a05" stroke-width="1.75" stroke-dasharray="4.8 3.5"/>
<line x1="533.53" y1="805.30" x2="538.53" y2="805.30" stroke="#b05a05" stroke-width="1.6"/>
<line x1="565.87" y1="744.50" x2="565.87" y2="736.60" stroke="#b05a05" stroke-width="1.75" stroke-dasharray="4.8 3.5"/>
<line x1="563.37" y1="736.60" x2="568.37" y2="736.60" stroke="#b05a05" stroke-width="1.6"/>
<line x1="565.87" y1="755.70" x2="565.87" y2="762.60" stroke="#b05a05" stroke-width="1.75" stroke-dasharray="4.8 3.5"/>
<line x1="563.37" y1="762.60" x2="568.37" y2="762.60" stroke="#b05a05" stroke-width="1.6"/>
<line x1="595.69" y1="700.20" x2="595.69" y2="689.50" stroke="#b05a05" stroke-width="1.75" stroke-dasharray="4.8 3.5"/>
<line x1="593.19" y1="689.50" x2="598.19" y2="689.50" stroke="#b05a05" stroke-width="1.6"/>
<line x1="595.69" y1="711.40" x2="595.69" y2="723.40" stroke="#b05a05" stroke-width="1.75" stroke-dasharray="4.8 3.5"/>
<line x1="593.19" y1="723.40" x2="598.19" y2="723.40" stroke="#b05a05" stroke-width="1.6"/>
<line x1="625.52" y1="731.70" x2="625.52" y2="721.00" stroke="#b05a05" stroke-width="1.75" stroke-dasharray="4.8 3.5"/>
<line x1="623.02" y1="721.00" x2="628.02" y2="721.00" stroke="#b05a05" stroke-width="1.6"/>
<line x1="625.52" y1="742.90" x2="625.52" y2="756.00" stroke="#b05a05" stroke-width="1.75" stroke-dasharray="4.8 3.5"/>
<line x1="623.02" y1="756.00" x2="628.02" y2="756.00" stroke="#b05a05" stroke-width="1.6"/>
<line x1="655.36" y1="770.90" x2="655.36" y2="750.80" stroke="#b05a05" stroke-width="1.75" stroke-dasharray="4.8 3.5"/>
<line x1="652.86" y1="750.80" x2="657.86" y2="750.80" stroke="#b05a05" stroke-width="1.6"/>
<line x1="655.36" y1="782.10" x2="655.36" y2="805.40" stroke="#b05a05" stroke-width="1.75" stroke-dasharray="4.8 3.5"/>
<line x1="652.86" y1="805.40" x2="657.86" y2="805.40" stroke="#b05a05" stroke-width="1.6"/>
<line x1="685.18" y1="781.00" x2="685.18" y2="758.60" stroke="#b05a05" stroke-width="1.75" stroke-dasharray="4.8 3.5"/>
<line x1="682.68" y1="758.60" x2="687.68" y2="758.60" stroke="#b05a05" stroke-width="1.6"/>
<line x1="685.18" y1="792.20" x2="685.18" y2="819.00" stroke="#b05a05" stroke-width="1.75" stroke-dasharray="4.8 3.5"/>
<line x1="682.68" y1="819.00" x2="687.68" y2="819.00" stroke="#b05a05" stroke-width="1.6"/>
<line x1="715.01" y1="826.90" x2="715.01" y2="792.40" stroke="#b05a05" stroke-width="1.75" stroke-dasharray="4.8 3.5"/>
<line x1="712.51" y1="792.40" x2="717.51" y2="792.40" stroke="#b05a05" stroke-width="1.6"/>
<line x1="715.01" y1="838.10" x2="715.01" y2="882.20" stroke="#b05a05" stroke-width="1.75" stroke-dasharray="4.8 3.5"/>
<line x1="712.51" y1="882.20" x2="717.51" y2="882.20" stroke="#b05a05" stroke-width="1.6"/>
<circle cx="118.41" cy="784.80" r="5.05" fill="none" stroke="#b05a05" stroke-width="1.8"/>
<circle cx="148.25" cy="797.20" r="5.05" fill="none" stroke="#b05a05" stroke-width="1.8"/>
<circle cx="178.07" cy="794.70" r="5.05" fill="none" stroke="#b05a05" stroke-width="1.8"/>
<circle cx="207.91" cy="789.80" r="5.05" fill="none" stroke="#b05a05" stroke-width="1.8"/>
<circle cx="237.73" cy="785.00" r="5.05" fill="none" stroke="#b05a05" stroke-width="1.8"/>
<circle cx="267.56" cy="777.70" r="5.05" fill="none" stroke="#b05a05" stroke-width="1.8"/>
<circle cx="297.39" cy="771.90" r="5.05" fill="none" stroke="#b05a05" stroke-width="1.8"/>
<circle cx="327.23" cy="774.00" r="5.05" fill="none" stroke="#b05a05" stroke-width="1.8"/>
<circle cx="357.05" cy="767.00" r="5.05" fill="none" stroke="#b05a05" stroke-width="1.8"/>
<circle cx="386.88" cy="765.90" r="5.05" fill="none" stroke="#b05a05" stroke-width="1.8"/>
<circle cx="416.71" cy="764.10" r="5.05" fill="none" stroke="#b05a05" stroke-width="1.8"/>
<circle cx="446.54" cy="756.60" r="5.05" fill="none" stroke="#b05a05" stroke-width="1.8"/>
<circle cx="476.38" cy="762.10" r="5.05" fill="none" stroke="#b05a05" stroke-width="1.8"/>
<circle cx="506.20" cy="770.40" r="5.05" fill="none" stroke="#b05a05" stroke-width="1.8"/>
<circle cx="536.03" cy="794.30" r="5.05" fill="none" stroke="#b05a05" stroke-width="1.8"/>
<circle cx="565.87" cy="750.10" r="5.05" fill="none" stroke="#b05a05" stroke-width="1.8"/>
<circle cx="595.69" cy="705.80" r="5.05" fill="none" stroke="#b05a05" stroke-width="1.8"/>
<circle cx="625.52" cy="737.30" r="5.05" fill="none" stroke="#b05a05" stroke-width="1.8"/>
<circle cx="655.36" cy="776.50" r="5.05" fill="none" stroke="#b05a05" stroke-width="1.8"/>
<circle cx="685.18" cy="786.60" r="5.05" fill="none" stroke="#b05a05" stroke-width="1.8"/>
<circle cx="715.01" cy="832.50" r="5.05" fill="none" stroke="#b05a05" stroke-width="1.8"/>
<polyline points="118.41,784.00 148.25,799.70 178.07,803.80 207.91,804.40 237.73,805.60 267.56,804.30 297.39,799.00 327.23,801.50 357.05,801.20 386.88,803.80 416.71,798.60 446.54,802.00 476.38,810.80 506.20,801.70 536.03,818.70 565.87,803.80 595.69,756.20 625.52,789.50 655.36,832.80 685.18,851.10 715.01,833.80" fill="none" stroke="#359505" stroke-width="1.8" stroke-dasharray="4.8 3.5" stroke-linejoin="round"/>
<line x1="476.38" y1="805.20" x2="476.38" y2="803.50" stroke="#359505" stroke-width="1.75" stroke-dasharray="4.8 3.5"/>
<line x1="473.88" y1="803.50" x2="478.88" y2="803.50" stroke="#359505" stroke-width="1.6"/>
<line x1="476.38" y1="816.40" x2="476.38" y2="818.20" stroke="#359505" stroke-width="1.75" stroke-dasharray="4.8 3.5"/>
<line x1="473.88" y1="818.20" x2="478.88" y2="818.20" stroke="#359505" stroke-width="1.6"/>
<line x1="506.20" y1="796.10" x2="506.20" y2="793.70" stroke="#359505" stroke-width="1.75" stroke-dasharray="4.8 3.5"/>
<line x1="503.70" y1="793.70" x2="508.70" y2="793.70" stroke="#359505" stroke-width="1.6"/>
<line x1="506.20" y1="807.30" x2="506.20" y2="811.90" stroke="#359505" stroke-width="1.75" stroke-dasharray="4.8 3.5"/>
<line x1="503.70" y1="811.90" x2="508.70" y2="811.90" stroke="#359505" stroke-width="1.6"/>
<line x1="536.03" y1="813.10" x2="536.03" y2="808.40" stroke="#359505" stroke-width="1.75" stroke-dasharray="4.8 3.5"/>
<line x1="533.53" y1="808.40" x2="538.53" y2="808.40" stroke="#359505" stroke-width="1.6"/>
<line x1="536.03" y1="824.30" x2="536.03" y2="830.40" stroke="#359505" stroke-width="1.75" stroke-dasharray="4.8 3.5"/>
<line x1="533.53" y1="830.40" x2="538.53" y2="830.40" stroke="#359505" stroke-width="1.6"/>
<line x1="565.87" y1="798.20" x2="565.87" y2="787.90" stroke="#359505" stroke-width="1.75" stroke-dasharray="4.8 3.5"/>
<line x1="563.37" y1="787.90" x2="568.37" y2="787.90" stroke="#359505" stroke-width="1.6"/>
<line x1="565.87" y1="809.40" x2="565.87" y2="821.80" stroke="#359505" stroke-width="1.75" stroke-dasharray="4.8 3.5"/>
<line x1="563.37" y1="821.80" x2="568.37" y2="821.80" stroke="#359505" stroke-width="1.6"/>
<line x1="595.69" y1="750.60" x2="595.69" y2="741.50" stroke="#359505" stroke-width="1.75" stroke-dasharray="4.8 3.5"/>
<line x1="593.19" y1="741.50" x2="598.19" y2="741.50" stroke="#359505" stroke-width="1.6"/>
<line x1="595.69" y1="761.80" x2="595.69" y2="771.90" stroke="#359505" stroke-width="1.75" stroke-dasharray="4.8 3.5"/>
<line x1="593.19" y1="771.90" x2="598.19" y2="771.90" stroke="#359505" stroke-width="1.6"/>
<line x1="625.52" y1="783.90" x2="625.52" y2="768.90" stroke="#359505" stroke-width="1.75" stroke-dasharray="4.8 3.5"/>
<line x1="623.02" y1="768.90" x2="628.02" y2="768.90" stroke="#359505" stroke-width="1.6"/>
<line x1="625.52" y1="795.10" x2="625.52" y2="813.70" stroke="#359505" stroke-width="1.75" stroke-dasharray="4.8 3.5"/>
<line x1="623.02" y1="813.70" x2="628.02" y2="813.70" stroke="#359505" stroke-width="1.6"/>
<line x1="655.36" y1="827.20" x2="655.36" y2="809.60" stroke="#359505" stroke-width="1.75" stroke-dasharray="4.8 3.5"/>
<line x1="652.86" y1="809.60" x2="657.86" y2="809.60" stroke="#359505" stroke-width="1.6"/>
<line x1="655.36" y1="838.40" x2="655.36" y2="859.80" stroke="#359505" stroke-width="1.75" stroke-dasharray="4.8 3.5"/>
<line x1="652.86" y1="859.80" x2="657.86" y2="859.80" stroke="#359505" stroke-width="1.6"/>
<line x1="685.18" y1="845.50" x2="685.18" y2="823.10" stroke="#359505" stroke-width="1.75" stroke-dasharray="4.8 3.5"/>
<line x1="682.68" y1="823.10" x2="687.68" y2="823.10" stroke="#359505" stroke-width="1.6"/>
<line x1="685.18" y1="856.70" x2="685.18" y2="886.00" stroke="#359505" stroke-width="1.75" stroke-dasharray="4.8 3.5"/>
<line x1="682.68" y1="886.00" x2="687.68" y2="886.00" stroke="#359505" stroke-width="1.6"/>
<line x1="715.01" y1="828.20" x2="715.01" y2="799.30" stroke="#359505" stroke-width="1.75" stroke-dasharray="4.8 3.5"/>
<line x1="712.51" y1="799.30" x2="717.51" y2="799.30" stroke="#359505" stroke-width="1.6"/>
<line x1="715.01" y1="839.40" x2="715.01" y2="879.10" stroke="#359505" stroke-width="1.75" stroke-dasharray="4.8 3.5"/>
<line x1="712.51" y1="879.10" x2="717.51" y2="879.10" stroke="#359505" stroke-width="1.6"/>
<rect x="113.41" y="779.00" width="10.0" height="10.0" fill="none" stroke="#359505" stroke-width="1.8"/>
<rect x="143.25" y="794.70" width="10.0" height="10.0" fill="none" stroke="#359505" stroke-width="1.8"/>
<rect x="173.07" y="798.80" width="10.0" height="10.0" fill="none" stroke="#359505" stroke-width="1.8"/>
<rect x="202.91" y="799.40" width="10.0" height="10.0" fill="none" stroke="#359505" stroke-width="1.8"/>
<rect x="232.73" y="800.60" width="10.0" height="10.0" fill="none" stroke="#359505" stroke-width="1.8"/>
<rect x="262.56" y="799.30" width="10.0" height="10.0" fill="none" stroke="#359505" stroke-width="1.8"/>
<rect x="292.39" y="794.00" width="10.0" height="10.0" fill="none" stroke="#359505" stroke-width="1.8"/>
<rect x="322.23" y="796.50" width="10.0" height="10.0" fill="none" stroke="#359505" stroke-width="1.8"/>
<rect x="352.05" y="796.20" width="10.0" height="10.0" fill="none" stroke="#359505" stroke-width="1.8"/>
<rect x="381.88" y="798.80" width="10.0" height="10.0" fill="none" stroke="#359505" stroke-width="1.8"/>
<rect x="411.71" y="793.60" width="10.0" height="10.0" fill="none" stroke="#359505" stroke-width="1.8"/>
<rect x="441.54" y="797.00" width="10.0" height="10.0" fill="none" stroke="#359505" stroke-width="1.8"/>
<rect x="471.38" y="805.80" width="10.0" height="10.0" fill="none" stroke="#359505" stroke-width="1.8"/>
<rect x="501.20" y="796.70" width="10.0" height="10.0" fill="none" stroke="#359505" stroke-width="1.8"/>
<rect x="531.03" y="813.70" width="10.0" height="10.0" fill="none" stroke="#359505" stroke-width="1.8"/>
<rect x="560.87" y="798.80" width="10.0" height="10.0" fill="none" stroke="#359505" stroke-width="1.8"/>
<rect x="590.69" y="751.20" width="10.0" height="10.0" fill="none" stroke="#359505" stroke-width="1.8"/>
<rect x="620.52" y="784.50" width="10.0" height="10.0" fill="none" stroke="#359505" stroke-width="1.8"/>
<rect x="650.36" y="827.80" width="10.0" height="10.0" fill="none" stroke="#359505" stroke-width="1.8"/>
<rect x="680.18" y="846.10" width="10.0" height="10.0" fill="none" stroke="#359505" stroke-width="1.8"/>
<rect x="710.01" y="828.80" width="10.0" height="10.0" fill="none" stroke="#359505" stroke-width="1.8"/>
<polyline points="118.41,789.40 148.25,794.80 178.07,790.60 207.91,787.30 237.73,787.00 267.56,785.80 297.39,785.30 327.23,786.10 357.05,780.70 386.88,785.90 416.71,784.00 446.54,784.80 476.38,795.50 506.20,791.30 536.03,811.90 565.87,760.30 595.69,738.80 625.52,785.30 655.36,765.00 685.18,858.30 715.01,810.90" fill="none" stroke="#1b5768" stroke-width="1.8"  stroke-linejoin="round"/>
<line x1="446.54" y1="779.20" x2="446.54" y2="778.80" stroke="#1b5768" stroke-width="1.75" />
<line x1="444.04" y1="778.80" x2="449.04" y2="778.80" stroke="#1b5768" stroke-width="1.6"/>
<line x1="446.54" y1="790.40" x2="446.54" y2="791.30" stroke="#1b5768" stroke-width="1.75" />
<line x1="444.04" y1="791.30" x2="449.04" y2="791.30" stroke="#1b5768" stroke-width="1.6"/>
<line x1="476.38" y1="789.90" x2="476.38" y2="788.70" stroke="#1b5768" stroke-width="1.75" />
<line x1="473.88" y1="788.70" x2="478.88" y2="788.70" stroke="#1b5768" stroke-width="1.6"/>
<line x1="476.38" y1="801.10" x2="476.38" y2="802.80" stroke="#1b5768" stroke-width="1.75" />
<line x1="473.88" y1="802.80" x2="478.88" y2="802.80" stroke="#1b5768" stroke-width="1.6"/>
<line x1="506.20" y1="785.70" x2="506.20" y2="782.90" stroke="#1b5768" stroke-width="1.75" />
<line x1="503.70" y1="782.90" x2="508.70" y2="782.90" stroke="#1b5768" stroke-width="1.6"/>
<line x1="506.20" y1="796.90" x2="506.20" y2="801.10" stroke="#1b5768" stroke-width="1.75" />
<line x1="503.70" y1="801.10" x2="508.70" y2="801.10" stroke="#1b5768" stroke-width="1.6"/>
<line x1="536.03" y1="806.30" x2="536.03" y2="799.50" stroke="#1b5768" stroke-width="1.75" />
<line x1="533.53" y1="799.50" x2="538.53" y2="799.50" stroke="#1b5768" stroke-width="1.6"/>
<line x1="536.03" y1="817.50" x2="536.03" y2="825.90" stroke="#1b5768" stroke-width="1.75" />
<line x1="533.53" y1="825.90" x2="538.53" y2="825.90" stroke="#1b5768" stroke-width="1.6"/>
<line x1="565.87" y1="754.70" x2="565.87" y2="749.00" stroke="#1b5768" stroke-width="1.75" />
<line x1="563.37" y1="749.00" x2="568.37" y2="749.00" stroke="#1b5768" stroke-width="1.6"/>
<line x1="565.87" y1="765.90" x2="565.87" y2="773.50" stroke="#1b5768" stroke-width="1.75" />
<line x1="563.37" y1="773.50" x2="568.37" y2="773.50" stroke="#1b5768" stroke-width="1.6"/>
<line x1="595.69" y1="733.20" x2="595.69" y2="723.50" stroke="#1b5768" stroke-width="1.75" />
<line x1="593.19" y1="723.50" x2="598.19" y2="723.50" stroke="#1b5768" stroke-width="1.6"/>
<line x1="595.69" y1="744.40" x2="595.69" y2="757.60" stroke="#1b5768" stroke-width="1.75" />
<line x1="593.19" y1="757.60" x2="598.19" y2="757.60" stroke="#1b5768" stroke-width="1.6"/>
<line x1="625.52" y1="779.70" x2="625.52" y2="769.10" stroke="#1b5768" stroke-width="1.75" />
<line x1="623.02" y1="769.10" x2="628.02" y2="769.10" stroke="#1b5768" stroke-width="1.6"/>
<line x1="625.52" y1="790.90" x2="625.52" y2="802.30" stroke="#1b5768" stroke-width="1.75" />
<line x1="623.02" y1="802.30" x2="628.02" y2="802.30" stroke="#1b5768" stroke-width="1.6"/>
<line x1="655.36" y1="759.40" x2="655.36" y2="746.90" stroke="#1b5768" stroke-width="1.75" />
<line x1="652.86" y1="746.90" x2="657.86" y2="746.90" stroke="#1b5768" stroke-width="1.6"/>
<line x1="655.36" y1="770.60" x2="655.36" y2="786.60" stroke="#1b5768" stroke-width="1.75" />
<line x1="652.86" y1="786.60" x2="657.86" y2="786.60" stroke="#1b5768" stroke-width="1.6"/>
<line x1="685.18" y1="852.70" x2="685.18" y2="824.90" stroke="#1b5768" stroke-width="1.75" />
<line x1="682.68" y1="824.90" x2="687.68" y2="824.90" stroke="#1b5768" stroke-width="1.6"/>
<line x1="685.18" y1="863.90" x2="685.18" y2="901.70" stroke="#1b5768" stroke-width="1.75" />
<line x1="682.68" y1="901.70" x2="687.68" y2="901.70" stroke="#1b5768" stroke-width="1.6"/>
<line x1="715.01" y1="805.30" x2="715.01" y2="783.40" stroke="#1b5768" stroke-width="1.75" />
<line x1="712.51" y1="783.40" x2="717.51" y2="783.40" stroke="#1b5768" stroke-width="1.6"/>
<line x1="715.01" y1="816.50" x2="715.01" y2="844.20" stroke="#1b5768" stroke-width="1.75" />
<line x1="712.51" y1="844.20" x2="717.51" y2="844.20" stroke="#1b5768" stroke-width="1.6"/>
<polygon points="112.91,784.00 123.91,784.00 118.41,794.80" fill="#1b5768"/>
<polygon points="142.75,789.40 153.75,789.40 148.25,800.20" fill="#1b5768"/>
<polygon points="172.57,785.20 183.57,785.20 178.07,796.00" fill="#1b5768"/>
<polygon points="202.41,781.90 213.41,781.90 207.91,792.70" fill="#1b5768"/>
<polygon points="232.23,781.60 243.23,781.60 237.73,792.40" fill="#1b5768"/>
<polygon points="262.06,780.40 273.06,780.40 267.56,791.20" fill="#1b5768"/>
<polygon points="291.89,779.90 302.89,779.90 297.39,790.70" fill="#1b5768"/>
<polygon points="321.73,780.70 332.73,780.70 327.23,791.50" fill="#1b5768"/>
<polygon points="351.55,775.30 362.55,775.30 357.05,786.10" fill="#1b5768"/>
<polygon points="381.38,780.50 392.38,780.50 386.88,791.30" fill="#1b5768"/>
<polygon points="411.21,778.60 422.21,778.60 416.71,789.40" fill="#1b5768"/>
<polygon points="441.04,779.40 452.04,779.40 446.54,790.20" fill="#1b5768"/>
<polygon points="470.88,790.10 481.88,790.10 476.38,800.90" fill="#1b5768"/>
<polygon points="500.70,785.90 511.70,785.90 506.20,796.70" fill="#1b5768"/>
<polygon points="530.53,806.50 541.53,806.50 536.03,817.30" fill="#1b5768"/>
<polygon points="560.37,754.90 571.37,754.90 565.87,765.70" fill="#1b5768"/>
<polygon points="590.19,733.40 601.19,733.40 595.69,744.20" fill="#1b5768"/>
<polygon points="620.02,779.90 631.02,779.90 625.52,790.70" fill="#1b5768"/>
<polygon points="649.86,759.60 660.86,759.60 655.36,770.40" fill="#1b5768"/>
<polygon points="679.68,852.90 690.68,852.90 685.18,863.70" fill="#1b5768"/>
<polygon points="709.51,805.50 720.51,805.50 715.01,816.30" fill="#1b5768"/>
<rect x="91.05" y="35.0" width="650.95" height="920.9" fill="none" stroke="#000" stroke-width="2"/>
<line x1="91.05" y1="635.00" x2="742.00" y2="635.00" stroke="#000" stroke-width="2" />
<rect x="147.50" y="118.80" width="11.2" height="11.2" fill="#000"/>
<line x1="128.50" y1="150.40" x2="177.00" y2="150.40" stroke="#b05a05" stroke-width="1.7" stroke-dasharray="4.8 3.55"/>
<circle cx="153.10" cy="150.40" r="5.05" fill="none" stroke="#b05a05" stroke-width="1.8"/>
<line x1="128.50" y1="176.30" x2="177.00" y2="176.30" stroke="#359505" stroke-width="1.7" stroke-dasharray="4.8 3.55"/>
<rect x="148.10" y="171.30" width="10.0" height="10.0" fill="none" stroke="#359505" stroke-width="1.8"/>
<line x1="128.50" y1="202.40" x2="177.00" y2="202.40" stroke="#1b5768" stroke-width="1.3" />
<polygon points="147.60,196.90 158.60,196.90 153.10,207.70" fill="#1b5768"/>
<text transform="translate(187.6,129.6) scale(1.026,1)" font-size="18.2" text-anchor="start" fill="#000">CDF</text>
<text transform="translate(187.6,155.6) scale(1.039,1)" font-size="18.2" text-anchor="start" fill="#000">Herwig++ 2.7.1 default</text>
<text transform="translate(187.6,181.6) scale(1.036,1)" font-size="18.2" text-anchor="start" fill="#000">Herwig 7.2.1 default</text>
<text transform="translate(187.6,207.6) scale(1.038,1)" font-size="18.2" text-anchor="start" fill="#000">Herwig 7.2.1 softTune</text>
<text transform="translate(104.0,28.8) scale(1.0245,1)" font-size="23.3" text-anchor="start" fill="#000">1800 GeV ppbar</text>
<text transform="translate(734.5,28.8) scale(1.028,1)" font-size="23.3" text-anchor="end" fill="#000">Underlying Event</text>
<text transform="translate(297.6,85.3)" font-size="23.3" text-anchor="start" fill="#000">N</text>
<text transform="translate(313.3,90.6) scale(0.98,1)" font-size="15.5" text-anchor="start" fill="#000">ch</text>
<text transform="translate(335.6,85.3) scale(1.035,1)" font-size="23.3" text-anchor="start" fill="#000">(away) for min-bias</text>
<text transform="translate(416.4,604.2)" font-size="15.7" text-anchor="middle" fill="#999999">(CDF_2001_I564673)</text>
<path d="M63.00,228.90 L60.70,228.90 L60.70,217.60 L56.90,217.60 L56.90,216.00 C59.10,215.80 60.50,214.60 61.30,212.90 L63.00,212.90 Z" fill="#000"/>
<text transform="translate(66.9,229.3)" font-size="23.1" text-anchor="start" fill="#000">0</text>
<path d="M79.30,436.90 L77.00,436.90 L77.00,425.60 L73.20,425.60 L73.20,424.00 C75.40,423.80 76.80,422.60 77.60,420.90 L79.30,420.90 Z" fill="#000"/>
<text transform="translate(77.1,683.0) scale(0.97,1)" font-size="23.5" text-anchor="end" fill="#000">2</text>
<path d="M74.15,804.90 L71.71,804.90 L71.71,792.89 L67.67,792.89 L67.67,791.19 C70.01,790.98 71.49,789.71 72.34,787.90 L74.15,787.90 Z" fill="#000"/>
<text transform="translate(77.0,925.3) scale(0.96,1)" font-size="23.8" text-anchor="end" fill="#000">0.5</text>
<text transform="translate(747.4,683.0) scale(0.97,1)" font-size="23.5" text-anchor="start" fill="#000">2</text>
<path d="M756.40,804.90 L753.96,804.90 L753.96,792.89 L749.92,792.89 L749.92,791.19 C752.26,790.98 753.74,789.71 754.59,787.90 L756.40,787.90 Z" fill="#000"/>
<text transform="translate(747.7,925.3) scale(1.005,1)" font-size="23.8" text-anchor="start" fill="#000">0.5</text>
<text transform="translate(103.6,978.3) scale(0.97,1)" font-size="23.8" text-anchor="middle" fill="#000">0</text>
<text transform="translate(252.8,978.3) scale(0.97,1)" font-size="23.8" text-anchor="middle" fill="#000">5</text>
<path d="M398.20,977.90 L395.77,977.90 L395.77,965.96 L391.76,965.96 L391.76,964.27 C394.08,964.06 395.56,962.80 396.40,961.00 L398.20,961.00 Z" fill="#000"/>
<text transform="translate(402.9,978.3) scale(0.97,1)" font-size="23.8" text-anchor="start" fill="#000">0</text>
<path d="M546.20,977.90 L543.77,977.90 L543.77,965.96 L539.76,965.96 L539.76,964.27 C542.08,964.06 543.56,962.80 544.40,961.00 L546.20,961.00 Z" fill="#000"/>
<text transform="translate(551.2,978.3) scale(0.97,1)" font-size="23.8" text-anchor="start" fill="#000">5</text>
<text transform="translate(700.4,978.3) scale(0.97,1)" font-size="23.8" text-anchor="middle" fill="#000">20</text>
<text transform="translate(31.2,66.9) rotate(-90)" font-size="25" text-anchor="start" fill="#000">N</text>
<text transform="translate(38.2,34.4) rotate(-90)" font-size="15.9" text-anchor="end" fill="#000">ch</text>
<text transform="translate(36.6,792.4) rotate(-90)" font-size="17.8" text-anchor="middle" fill="#000">Ratio to CDF</text>
<text transform="translate(630,1003.6)" font-size="25" text-anchor="start" fill="#000">p<tspan font-size="16" dy="-7.6">lead</tspan><tspan font-size="16" dx="-30.5" dy="22">T</tspan><tspan dx="20.5" dy="-14.4"> / GeV</tspan></text>
<text transform="translate(760.3,35.3) rotate(-90) scale(0.977,1)" font-size="19.4" text-anchor="end" fill="#7c7c7c">Rivet 4.1.0, ≥ 2.5M events</text>
<text transform="translate(762.2,628.2) rotate(-90)" font-size="19" text-anchor="start" fill="#7c7c7c">mcplots.cern.ch [arXiv:2401.10621]</text>
</svg>
</body></html>
